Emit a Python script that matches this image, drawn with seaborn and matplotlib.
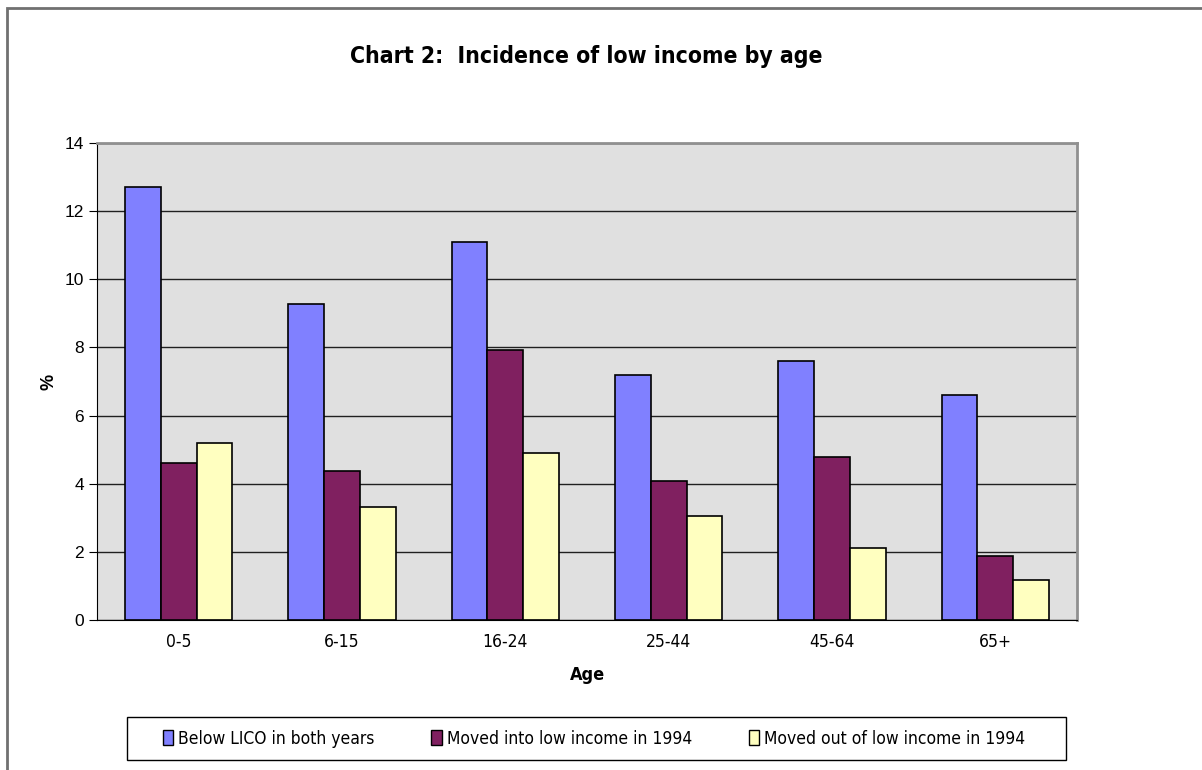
import pandas as pd
import matplotlib.pyplot as plt
import seaborn as sns
from matplotlib.patches import Rectangle

# Values (%)
ages = ['0-5', '6-15', '16-24', '25-44', '45-64', '65+']
below_lico = [12.7, 9.27, 11.1, 7.2, 7.6, 6.6]
moved_into = [4.6, 4.36, 7.92, 4.08, 4.77, 1.88]
moved_out = [5.19, 3.31, 4.9, 3.06, 2.12, 1.16]

series_names = ['Below LICO in both years', 'Moved into low income in 1994',
                'Moved out of low income in 1994']
colors = ['#8080FF', '#802060', '#FFFFC0']

df = pd.DataFrame({'Age': ages * 3,
                   'value': below_lico + moved_into + moved_out,
                   'series': [s for s in series_names for _ in ages]})

sns.set_style('white')
plt.rcParams['font.family'] = ['Liberation Sans', 'DejaVu Sans']
plt.rcParams['text.color'] = 'black'
plt.rcParams['xtick.color'] = 'black'
plt.rcParams['ytick.color'] = 'black'
plt.rcParams['axes.labelcolor'] = 'black'
cond = {'family': 'DejaVu Sans', 'stretch': 'condensed'}

fig = plt.figure(figsize=(12.02, 7.70), dpi=100)
ax = fig.add_axes([0.0807, 0.1948, 0.8153, 0.6195])
ax.set_facecolor('#E0E0E0')

sns.barplot(data=df, x='Age', y='value', hue='series', palette=colors,
            saturation=1, width=0.656, gap=0, edgecolor='black', linewidth=1.2,
            legend=False, ax=ax)

ax.set_ylim(0, 14)
ax.set_xlim(-0.5, 5.5)
ax.set_yticks(range(0, 15, 2))
ax.yaxis.grid(True, color='#202020', linewidth=1)
ax.set_axisbelow(True)

# category ticks between groups
ax.set_xticks(range(6))
ax.set_xticklabels(ages, fontsize=12.5, **cond)
ax.set_xticks([i - 0.5 for i in range(7)], minor=True)
ax.tick_params(axis='x', which='major', length=0, pad=9)
ax.tick_params(axis='x', which='minor', length=6, direction='out', color='black')
ax.tick_params(axis='y', length=6, direction='out', color='black', labelsize=12.5, left=True)

for s in ['left', 'bottom']:
    ax.spines[s].set_color('black')
for s in ['top', 'right']:
    ax.spines[s].set_color('#909090')
    ax.spines[s].set_linewidth(2)

ax.set_xlabel('Age', fontweight='bold', fontsize=13, labelpad=11, **cond)
ax.set_ylabel('%', fontweight='bold', fontsize=13, labelpad=5)

fig.text(586 / 1202, 0.926, 'Chart 2:  Incidence of low income by age', ha='center',
         va='center', fontsize=16.5, fontweight='bold', **cond)

# legend: entries spread across a box
handles = [Rectangle((0, 0), 1, 1, facecolor=c, edgecolor='black', linewidth=1) for c in colors]
lx0, lx1 = 154 / 1202, 1034 / 1202
leg = fig.legend(handles, series_names, loc='center',
                 bbox_to_anchor=(lx0, 0.0409 - 0.02, lx1 - lx0, 0.04), mode='expand',
                 ncol=3, frameon=False, prop={'size': 12.5, **cond},
                 handlelength=0.6, handleheight=1.0, handletextpad=0.3, borderpad=0)
fig.patches.append(Rectangle((127 / 1202, 1 - 760 / 770), 939 / 1202, 43 / 770,
                             transform=fig.transFigure, fill=False,
                             edgecolor='black', linewidth=1))

# outer chart border (runs off the right and bottom edges)
fig.patches.append(Rectangle((7 / 1202, -0.05), 1.0, 1 - 8 / 770 + 0.05,
                             transform=fig.transFigure, fill=False,
                             edgecolor='#707070', linewidth=2))

fig.savefig('out.png', dpi=100)
